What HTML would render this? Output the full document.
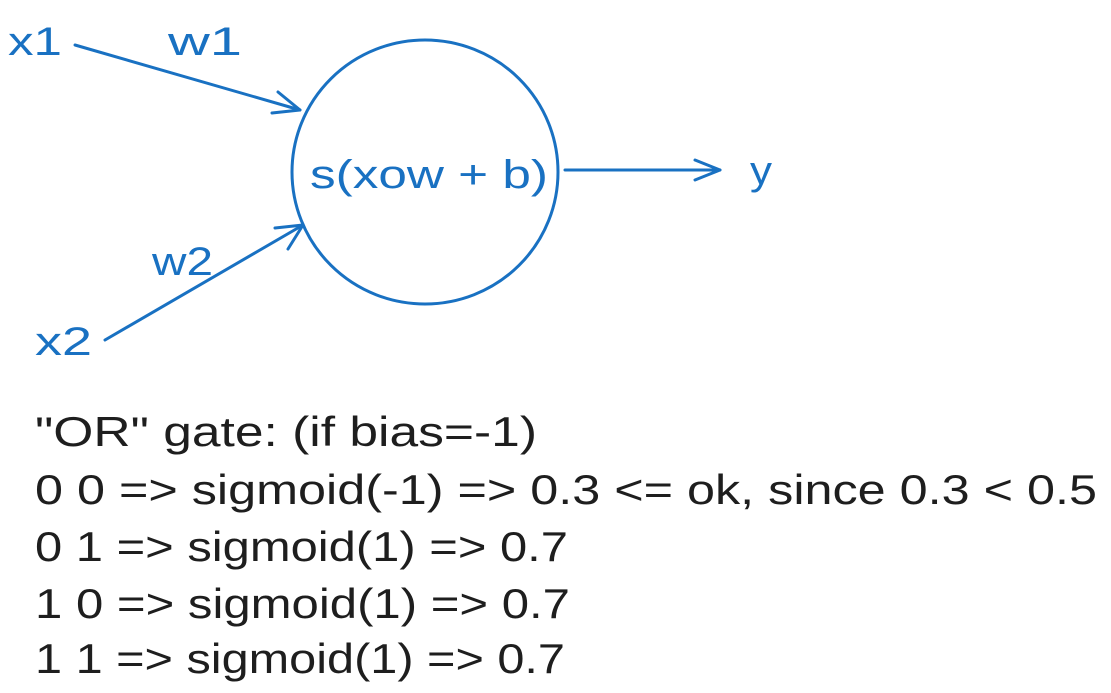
<!DOCTYPE html>
<html><head><meta charset="utf-8"><style>
html,body{margin:0;padding:0;background:#fff;}
svg{display:block;}
text{font-family:"Liberation Sans",sans-serif;}
</style></head><body>
<svg width="1111" height="693" viewBox="0 0 1111 693">
<g stroke="#1971c2" stroke-width="3" fill="none" stroke-linecap="round" stroke-linejoin="round">
  <ellipse cx="425" cy="172" rx="133" ry="132"/>
  <g>
    <path d="M75 45 L300 110"/>
    <path d="M278 92 L300 110 L272 113"/>
  </g>
  <g>
    <path d="M105 340 L303 225"/>
    <path d="M275 228 L303 225 L288 249"/>
  </g>
  <g>
    <path d="M565 170 L720 170"/>
    <path d="M695 160 L720 170 L695 180"/>
  </g>
</g>
<g fill="#1971c2" font-size="40">
  <text x="8" y="55" textLength="54" lengthAdjust="spacingAndGlyphs">x1</text>
  <text x="168" y="55" textLength="74" lengthAdjust="spacingAndGlyphs">w1</text>
  <text x="35" y="355" textLength="57" lengthAdjust="spacingAndGlyphs">x2</text>
  <text x="152" y="275" textLength="61" lengthAdjust="spacingAndGlyphs">w2</text>
  <text x="310" y="188" textLength="238" lengthAdjust="spacingAndGlyphs">s(xow + b)</text>
  <text x="750" y="184" textLength="22" lengthAdjust="spacingAndGlyphs">y</text>
</g>
<g fill="#1e1e1e" font-size="42">
  <text x="35" y="446" textLength="502" lengthAdjust="spacingAndGlyphs">"OR" gate: (if bias=-1)</text>
  <text x="35" y="504" textLength="1062" lengthAdjust="spacingAndGlyphs">0 0 =&gt; sigmoid(-1) =&gt; 0.3 &lt;= ok, since 0.3 &lt; 0.5</text>
  <text x="35" y="561" textLength="533" lengthAdjust="spacingAndGlyphs">0 1 =&gt; sigmoid(1) =&gt; 0.7</text>
  <text x="35" y="618" textLength="535" lengthAdjust="spacingAndGlyphs">1 0 =&gt; sigmoid(1) =&gt; 0.7</text>
  <text x="35" y="673" textLength="530" lengthAdjust="spacingAndGlyphs">1 1 =&gt; sigmoid(1) =&gt; 0.7</text>
</g>
</svg>
</body></html>
